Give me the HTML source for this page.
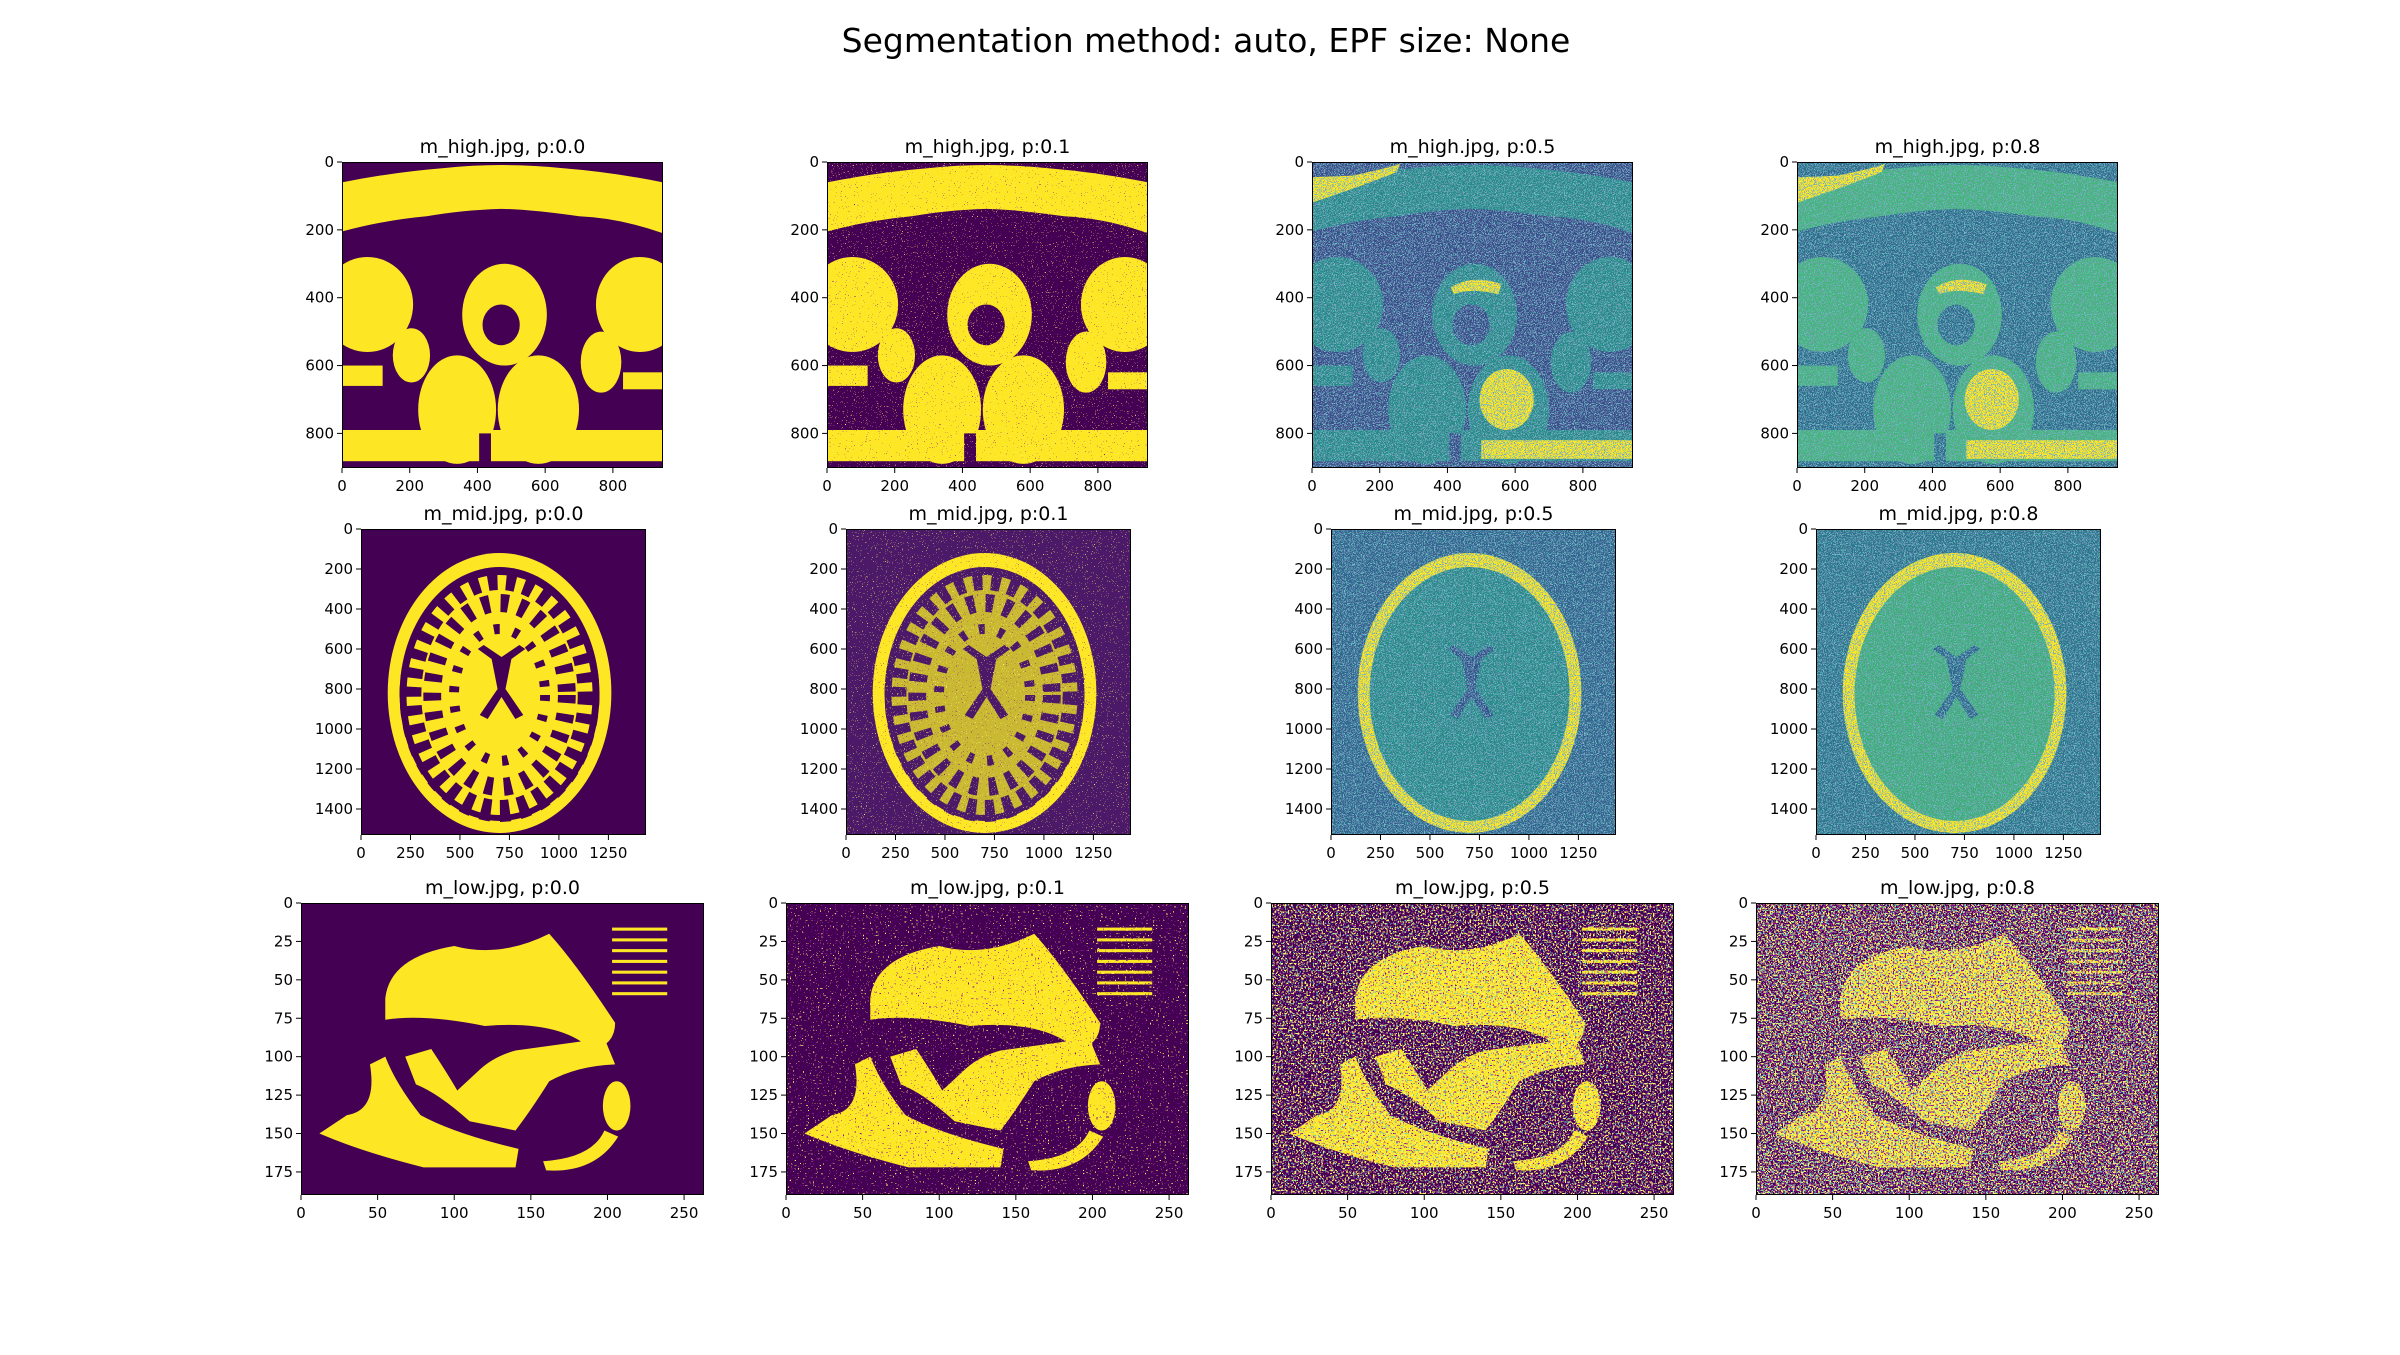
<!DOCTYPE html>
<html><head><meta charset="utf-8"><style>
html,body{margin:0;padding:0;background:#fff;}
svg text{font-family:"DejaVu Sans","Liberation Sans",sans-serif;fill:#000;}
</style></head><body>
<svg id="fig" xmlns="http://www.w3.org/2000/svg" width="2400" height="1350" viewBox="0 0 2400 1350">
<rect width="2400" height="1350" fill="#fff"/>
<text x="1206" y="52" text-anchor="middle" font-size="33">Segmentation method: auto, EPF size: None</text>
<defs id="defs"></defs>
</svg>
<script>
const files = ["m_high.jpg","m_mid.jpg","m_low.jpg"];
const probs = ["0.0","0.1","0.5","0.8"];
const imgW = [948, 1440, 263];
const imgH = [902, 1530, 190];
const xTicks0 = [0,200,400,600,800];
const yTicks0 = [0,200,400,600,800];
const xTicks1 = [0,250,500,750,1000,1250];
const yTicks1 = [0,200,400,600,800,1000,1200,1400];
const xTicks2 = [0,50,100,150,200,250];
const yTicks2 = [0,25,50,75,100,125,150,175];
const xTicks=[xTicks0,xTicks1,xTicks2], yTicks=[yTicks0,yTicks1,yTicks2];
const rowLeft=[342,361,301], rowTop=[162,529,903], rowW=[321,285,403], rowH=[306,306,292], colStep=485;
const NS="http://www.w3.org/2000/svg";
const fig=document.getElementById('fig'), defs=document.getElementById('defs');
function el(t,a,p){const e=document.createElementNS(NS,t);for(const k in a)e.setAttribute(k,a[k]);(p||fig).appendChild(e);return e;}
let fid=0;
function speckle(color,thr,seed,freq){
  const id='spk'+(fid++);
  const f=el('filter',{id:id,x:0,y:0,width:1,height:1,filterUnits:'objectBoundingBox'},defs);
  el('feTurbulence',{type:'fractalNoise',baseFrequency:freq||0.8,numOctaves:1,seed:seed},f);
  const c=color.match(/\w\w/g).map(h=>(parseInt(h,16)/255).toFixed(3));
  el('feColorMatrix',{type:'matrix',values:`0 0 0 0 ${c[0]} 0 0 0 0 ${c[1]} 0 0 0 0 ${c[2]} 1 0 0 0 0`},f);
  const ct=el('feComponentTransfer',{},f);
  const tv=[];for(let i=0;i<40;i++)tv.push(i/40>=thr?1:0);
  el('feFuncA',{type:'discrete',tableValues:tv.join(' ')},ct);
  return id;
}
const Y="#fde725",P="#440154";
function pelvis(g,bg,br,yel){
  el('rect',{x:0,y:0,width:948,height:902,fill:bg},g);
  const B=[
   ['path',{d:'M0,60 Q150,30 300,18 Q470,0 650,18 Q800,30 948,60 L948,210 Q820,165 700,160 Q560,140 470,138 Q350,142 250,160 Q120,172 0,205 Z'}],
   ['ellipse',{cx:75,cy:420,rx:135,ry:140}],['ellipse',{cx:880,cy:420,rx:130,ry:140}],
   ['ellipse',{cx:480,cy:450,rx:125,ry:150}],
   ['ellipse',{cx:205,cy:570,rx:55,ry:80}],['ellipse',{cx:765,cy:590,rx:60,ry:90}],
   ['ellipse',{cx:340,cy:730,rx:115,ry:160}],['ellipse',{cx:580,cy:730,rx:120,ry:160}],
   ['rect',{x:0,y:790,width:948,height:92}],['rect',{x:0,y:600,width:120,height:60}],['rect',{x:830,y:620,width:118,height:50}]];
  B.forEach(s=>{const a=Object.assign({fill:br},s[1]);el(s[0],a,g);});
  el('ellipse',{cx:470,cy:480,rx:55,ry:60,fill:bg},g);
  el('rect',{x:405,y:800,width:35,height:102,fill:bg},g);
  if(yel){
    el('ellipse',{cx:575,cy:700,rx:80,ry:90,fill:Y},g);
    el('rect',{x:500,y:820,width:448,height:55,fill:Y},g);
    el('path',{d:'M0,45 L120,40 Q220,20 260,5 L250,30 Q150,70 0,120 Z',fill:Y},g);
    el('path',{d:'M410,370 Q470,330 560,360 L550,390 Q470,370 420,390 Z',fill:Y},g);
  }
}
function brain(g,bg,skull,inner,dark,p0){
  el('rect',{x:0,y:0,width:1440,height:1530,fill:bg},g);
  el('ellipse',{cx:700,cy:820,rx:565,ry:700,fill:skull},g);
  el('ellipse',{cx:700,cy:825,rx:505,ry:635,fill:p0?dark:inner},g);
  el('ellipse',{cx:700,cy:830,rx:470,ry:600,fill:inner},g);
  if(p0){
    el('ellipse',{cx:700,cy:830,rx:450,ry:580,fill:'none',stroke:dark,'stroke-width':110,'stroke-dasharray':'50 45'},g);
    el('ellipse',{cx:700,cy:830,rx:340,ry:460,fill:'none',stroke:dark,'stroke-width':90,'stroke-dasharray':'40 55'},g);
    el('ellipse',{cx:700,cy:830,rx:230,ry:330,fill:'none',stroke:dark,'stroke-width':50,'stroke-dasharray':'30 70'},g);
  }
  el('path',{d:'M590,600 L660,650 L690,800 L600,930 L640,950 L710,840 L780,950 L820,930 L730,800 L760,650 L830,600 L800,580 L710,640 L620,580 Z',fill:dark},g);
}
function ultra(g,bg,br){
  el('rect',{x:0,y:0,width:263,height:190,fill:bg},g);
  const S=['M55,62 Q58,35 100,28 Q130,36 162,20 Q180,40 205,78 Q205,92 190,96 Q170,76 120,80 Q80,72 55,76 Z',
   'M12,150 Q40,162 80,172 L140,172 L142,160 Q100,150 78,138 Q62,118 55,100 L45,105 Q50,135 30,138 Z',
   'M68,100 L85,95 Q95,110 102,122 L115,110 Q125,100 140,96 L198,88 L205,105 Q180,106 162,116 Q150,135 140,148 L110,142 Q90,124 75,118 Z',
   'M158,168 Q190,166 198,148 L207,152 Q192,176 160,174 Z'];
  S.forEach(d=>el('path',{d:d,fill:br},g));
  el('ellipse',{cx:206,cy:132,rx:9,ry:16,fill:br},g);
  for(let i=0;i<7;i++)el('rect',{x:203,y:16+i*7,width:36,height:2,fill:br},g);
}
for(let r=0;r<3;r++)for(let c=0;c<4;c++){
  const L=rowLeft[r]+c*colStep,T=rowTop[r],w=rowW[r],h=rowH[r],W=imgW[r],H=imgH[r];
  const pan=el('g',{});
  
  
  const t=el('text',{x:L+w/2,y:T-9,'text-anchor':'middle','font-size':19},pan);
  t.textContent=files[r]+', p:'+probs[c];
  
  
  const img=el('svg',{x:L,y:T,width:w,height:h,viewBox:`0 0 ${W} ${H}`,preserveAspectRatio:'none'},pan);
  
  
  const p=+probs[c];
  if(r===0){
    if(p<0.3)pelvis(img,P,Y,false);
    else if(p<0.6)pelvis(img,'#3b4f8a','#2a8a8a',true);
    else pelvis(img,'#2f6f8d','#45b47a',true);
  }else if(r===1){
    if(p===0)brain(img,P,Y,Y,P,true);
    else if(p<0.3)brain(img,'#4a1a68',Y,'#c9b832','#4a1a68',true);
    else if(p<0.6)brain(img,'#31668e',Y,'#2a8a8a','#36568b',false);
    else brain(img,'#2f758d','#fde725','#40ad78','#31688e',false);
  }else{
    ultra(img,P,Y);
  }
  const noise=[];
  if(p>0){
    if(r===2){
      if(p<0.3){noise.push([Y,0.70,c]);noise.push([P,0.70,c+7]);}
      else if(p<0.6){noise.push([Y,0.57,c]);noise.push(['21918c',0.64,c+9]);noise.push([P,0.64,c+3]);}
      else{noise.push([Y,0.52,c]);noise.push(['21918c',0.6,c+9]);noise.push([P,0.6,c+3]);}
    }else if(p<0.3){noise.push([Y,0.70,c]);noise.push([P,0.72,c+5]);}
    else{noise.push(['21918c',0.6,c]);noise.push(['3b528b',0.6,c+5]);}
  }
  noise.forEach(n=>{
    const col=n[0].replace('#','');
    const id=speckle(col,n[1],n[2]+r*11,r===2?0.6:0.9);
    const nr=el('rect',{x:L,y:T,width:w,height:h,fill:'#000',filter:`url(#${id})`},pan);
    
    
  });
  const fr=el('rect',{x:L+0.5,y:T+0.5,width:w-1,height:h-1,fill:'none',stroke:'#000','stroke-width':1},pan);
  
  
  xTicks[r].forEach(v=>{
    const x=L+(v/W)*w;
    el('line',{x1:x,y1:T+h,x2:x,y2:T+h+5,stroke:'#000','stroke-width':1},pan);
    const tl=el('text',{x:x,y:T+h+23,'text-anchor':'middle','font-size':15},pan);
    tl.textContent=v;
    
    
  });
  yTicks[r].forEach(v=>{
    const y=T+(v/H)*h;
    el('line',{x1:L-5,y1:y,x2:L,y2:y,stroke:'#000','stroke-width':1},pan);
    const tl=el('text',{x:L-8,y:y+5,'text-anchor':'end','font-size':15},pan);
    tl.textContent=v;
    
    
  });
}
</script>
</body></html>
